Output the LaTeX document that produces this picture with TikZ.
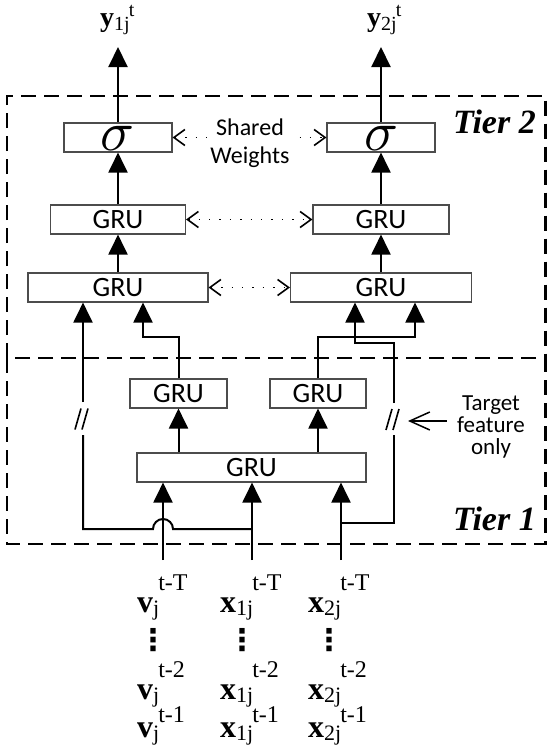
\documentclass[tikz,border=0pt]{standalone}
\usepackage{fontspec}
\usepackage{graphicx}
\setmainfont{Liberation Serif}
\newfontfamily\carl{Carlito}
\newfontfamily\dvs{DejaVu Sans}
\usetikzlibrary{arrows.meta,calc}
\newcommand{\botlab}[4]{{\fontsize{32}{32}\selectfont\bfseries #1}\raisebox{-3pt}{\fontsize{22}{22}\selectfont #2}\kern-1pt\raisebox{#4}{\fontsize{24}{24}\selectfont #3}}
\newcommand{\toplab}[3]{{\fontsize{28}{28}\selectfont\bfseries #1}\raisebox{-4pt}{\fontsize{20}{20}\selectfont #2}\kern-1pt\raisebox{10pt}{\fontsize{20}{20}\selectfont #3}}
\newcommand{\sigtxt}{\raisebox{-12.5pt}{\fontsize{10}{10}\selectfont\scalebox{5.6}{$\sigma$}}}
\begin{document}
\begin{tikzpicture}[x=1pt,y=1pt,
  box/.style={draw=black!70, line width=1.1pt, inner sep=0pt, minimum height=29pt, font=\carl\fontsize{28}{28}\selectfont},
  sbox/.style={box, text height=0pt, text depth=0pt},
  arr/.style={line width=2pt, -{Triangle[length=20pt,width=19pt]}},
  ln/.style={line width=2pt},
  dotarr/.style={line width=1.4pt, dash pattern=on 1.4pt off 9pt,
     {Straight Barb[length=11pt,width=16pt,line width=1.6pt]}-{Straight Barb[length=11pt,width=16pt,line width=1.6pt]}},
  tier/.style={line width=2.2pt, dash pattern=on 15pt off 8pt},
  brk/.style={line width=1.6pt},
  tierlab/.style={anchor=base east, inner sep=0pt, font=\bfseries\itshape\fontsize{34}{34}\selectfont},
  lab/.style={anchor=base west, inner sep=0pt},
  vdotsnode/.style={anchor=base, inner sep=0pt, font=\dvs\bfseries\fontsize{30}{30}\selectfont},
  sans/.style={inner sep=0pt, align=center},
]
\useasboundingbox (0,0) rectangle (547,-755);

% tier regions
\draw[tier] (7,-358) -- (7,-96) -- (545.5,-96) -- (545.5,-358);
\draw[tier] (7,-358) rectangle (545.5,-544);
\node[tierlab] (t2) at (536,-133) {Tier 2};
\node[tierlab] (t1) at (536,-530) {Tier 1};

% boxes
\node[sbox, minimum width=108pt] (sigL) at (118,-137.5) {\sigtxt};
\node[sbox, minimum width=108pt] (sigR) at (381,-137.5) {\sigtxt};
\node[box, minimum width=135pt] (gru2L) at (118,-219.5) {GRU};
\node[box, minimum width=136pt] (gru2R) at (381,-219.5) {GRU};
\node[box, minimum width=180pt] (gru3L) at (118,-287.5) {GRU};
\node[box, minimum width=181pt] (gru3R) at (381,-287.5) {GRU};
\node[box, minimum width=97pt] (gru4L) at (178.5,-393.5) {GRU};
\node[box, minimum width=96pt] (gru4R) at (318,-393.5) {GRU};
\node[box, minimum width=229pt] (gru5) at (251.5,-467.5) {GRU};

% outputs
\node[lab] (yL) at (100,-26) {\toplab{y}{1j}{t}};
\node[lab] (yR) at (367,-26) {\toplab{y}{2j}{t}};
\coordinate (ytop) at (0,-47);
\draw[arr] (sigL.north) -- (sigL.north |- ytop);
\draw[arr] (sigR.north) -- (sigR.north |- ytop);
\draw[arr] (gru2L.north) -- (sigL.south);
\draw[arr] (gru2R.north) -- (sigR.south);
\draw[arr] (gru3L.north) -- (gru2L.south);
\draw[arr] (gru3R.north) -- (gru2R.south);

% shared weights
\draw[dotarr] (sigL.east) -- (sigR.west);
\node[sans, fill=white, inner sep=2pt, font=\carl\fontsize{24}{28}\selectfont] (sw) at (250,-143) {Shared\\Weights};
\draw[dotarr] (gru2L.east) -- (gru2R.west);
\draw[dotarr] (gru3L.east) -- (gru3R.west);

% tier 1 internal
\draw[arr] (gru5.north -| gru4L) -- (gru4L.south);
\draw[arr] (gru5.north -| gru4R) -- (gru4R.south);
\coordinate (jl) at (143,-337);
\draw[arr] (gru4L.north) |- (jl) -- (jl |- gru3L.south);
\coordinate (jr) at (415,-337);
\draw[arr] (gru4R.north) |- (jr) -- (jr |- gru3R.south);

% inputs
\coordinate (inV) at (163,-560);
\coordinate (inX1) at (252,-560);
\coordinate (inX2) at (341,-560);
\draw[arr] (inV) -- (inV |- gru5.south);
\draw[arr] (inX1) -- (inX1 |- gru5.south);
\draw[arr] (inX2) -- (inX2 |- gru5.south);

% bypass of v (left)
\coordinate (hopL) at (83,-529);
\coordinate (brkL1) at (83,-435);
\coordinate (brkL2) at (83,-402);
\draw[ln] (inX1 |- hopL) -- ($(inV |- hopL)+(10,0)$) arc[start angle=0, end angle=180, radius=10pt] -- (hopL) -- (brkL1);
\draw[arr] (brkL2) -- (brkL2 |- gru3L.south);
\draw[brk] ($(brkL1)!0.5!(brkL2)+(-8,-11)$) -- ++(6,21);
\draw[brk] ($(brkL1)!0.5!(brkL2)+(-1,-11)$) -- ++(6,21);

% bypass of target feature (right)
\coordinate (hopR) at (394,-523);
\coordinate (brkR1) at (394,-435);
\coordinate (brkR2) at (394,-403);
\coordinate (jr2) at (355,-343);
\draw[ln] (inX2 |- hopR) -- (hopR) -- (brkR1);
\draw[arr] (brkR2) |- (jr2) -- (jr2 |- gru3R.south);
\draw[brk] ($(brkR1)!0.5!(brkR2)+(-8,-11)$) -- ++(6,21);
\draw[brk] ($(brkR1)!0.5!(brkR2)+(-1,-11)$) -- ++(6,21);

% target feature note
\node[sans, font=\carl\fontsize{23}{22}\selectfont] (tgt) at (491,-427) {Target\\feature\\only};
\coordinate (tgttip) at (408,-421);
\draw[line width=1.5pt, -{Straight Barb[length=20pt,width=18pt,line width=1.5pt]}] ($(tgt.west |- tgttip)+(-10,0)$) -- (tgttip);

% input labels
\node[lab] (v1) at (137,-612) {\botlab{v}{j}{t-T}{22pt}};
\node[lab] (a1) at (220,-612) {\botlab{x}{1j}{t-T}{22pt}};
\node[lab] (b1) at (308,-612) {\botlab{x}{2j}{t-T}{22pt}};
\node[vdotsnode] (dv) at (153,-650) {⋮};
\node[vdotsnode] (da) at (242,-650) {⋮};
\node[vdotsnode] (db) at (329,-650) {⋮};
\node[lab] (v3) at (137,-699) {\botlab{v}{j}{t-2}{22pt}};
\node[lab] (a3) at (220,-699) {\botlab{x}{1j}{t-2}{22pt}};
\node[lab] (b3) at (308,-699) {\botlab{x}{2j}{t-2}{22pt}};
\node[lab] (v4) at (137,-737) {\botlab{v}{j}{t-1}{15pt}};
\node[lab] (a4) at (220,-737) {\botlab{x}{1j}{t-1}{15pt}};
\node[lab] (b4) at (308,-737) {\botlab{x}{2j}{t-1}{15pt}};
\end{tikzpicture}
\end{document}
